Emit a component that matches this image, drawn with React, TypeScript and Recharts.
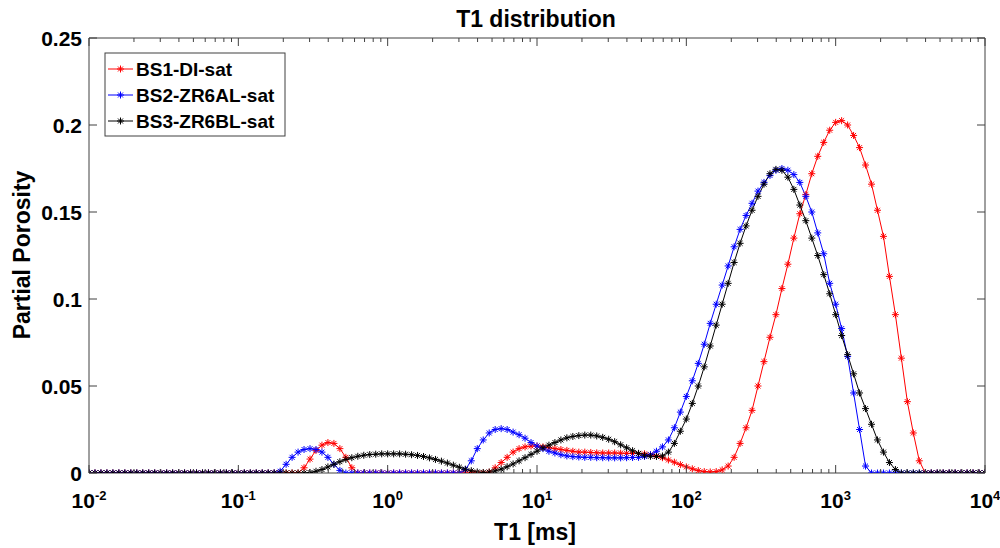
import React from "react";
import { LineChart, Line, XAxis, YAxis } from "recharts";

const FONT = '"Liberation Sans", Arial, Helvetica, sans-serif';
const AXIS_COLOR = "#404040";

// T1 bins: 25 per decade from 1e-2 to 1e4 (logspace, like the inversion grid)
const T1_BINS = Array.from({ length: 151 }, (_, i) => Math.pow(10, -2 + i / 25));

const BS1_DI = [
  0, 0, 0, 0, 0, 0, 0, 0, 0, 0,
  0, 0, 0, 0, 0, 0, 0, 0, 0, 0,
  0, 0, 0, 0, 0, 0, 0, 0, 0, 0,
  0, 0, 0, 0, 0, 0, 0.003, 0.008, 0.013, 0.016,
  0.0175, 0.017, 0.014, 0.009, 0.003, 0, 0, 0, 0, 0,
  0, 0, 0, 0, 0, 0, 0, 0, 0, 0,
  0, 0, 0, 0, 0, 0, 0, 0.0005, 0.003, 0.006,
  0.009, 0.012, 0.014, 0.015, 0.0155, 0.0155, 0.015, 0.0145, 0.014, 0.0135,
  0.013, 0.0125, 0.012, 0.012, 0.0118, 0.0116, 0.0115, 0.0115, 0.0115, 0.0114,
  0.0113, 0.0112, 0.0112, 0.011, 0.0105, 0.0098, 0.0088, 0.0075, 0.0062, 0.0048,
  0.0035, 0.0024, 0.0014, 0.0008, 0.0006, 0.0008, 0.0018, 0.004, 0.009, 0.017,
  0.026, 0.036, 0.05, 0.064, 0.078, 0.091, 0.106, 0.12, 0.135, 0.149,
  0.16, 0.172, 0.182, 0.19, 0.197, 0.2015, 0.2025, 0.2, 0.194, 0.187,
  0.177, 0.166, 0.151, 0.136, 0.113, 0.091, 0.066, 0.041, 0.023, 0.007,
  0, 0, 0, 0, 0, 0, 0, 0, 0, 0,
  0,
];

const BS2_ZR6AL = [
  0, 0, 0, 0, 0, 0, 0, 0, 0, 0,
  0, 0, 0, 0, 0, 0, 0, 0, 0, 0,
  0, 0, 0, 0, 0, 0, 0, 0, 0, 0,
  0, 0, 0.001, 0.005, 0.009, 0.012, 0.0135, 0.014, 0.0135, 0.012,
  0.009, 0.005, 0.0015, 0, 0, 0, 0, 0, 0, 0,
  0, 0, 0, 0, 0, 0, 0, 0, 0, 0,
  0, 0, 0, 0.002, 0.007, 0.014, 0.019, 0.023, 0.025, 0.0255,
  0.025, 0.0235, 0.022, 0.02, 0.0175, 0.0155, 0.014, 0.0125, 0.0115, 0.0105,
  0.0098, 0.0094, 0.0092, 0.009, 0.009, 0.0088, 0.0088, 0.0087, 0.0087, 0.0087,
  0.0088, 0.0089, 0.009, 0.0095, 0.0105, 0.0125, 0.015, 0.019, 0.026, 0.035,
  0.044, 0.053, 0.063, 0.074, 0.086, 0.097, 0.108, 0.119, 0.13, 0.14,
  0.148, 0.155, 0.162, 0.167, 0.171, 0.174, 0.175, 0.174, 0.1715, 0.167,
  0.159, 0.15, 0.138, 0.126, 0.109, 0.097, 0.083, 0.067, 0.046, 0.025,
  0.004, 0, 0, 0, 0, 0, 0, 0, 0, 0,
  0, 0, 0, 0, 0, 0, 0, 0, 0, 0,
  0,
];

const BS3_ZR6BL = [
  0, 0, 0, 0, 0, 0, 0, 0, 0, 0,
  0, 0, 0, 0, 0, 0, 0, 0, 0, 0,
  0, 0, 0, 0, 0, 0, 0, 0, 0, 0,
  0, 0, 0, 0, 0, 0, 0, 0.0003, 0.001, 0.002,
  0.0035, 0.005, 0.0065, 0.0078, 0.0088, 0.0096, 0.0102, 0.0106, 0.0108, 0.011,
  0.011, 0.011, 0.011, 0.0108, 0.0105, 0.0101, 0.0095, 0.0087, 0.0078, 0.0068,
  0.0057, 0.0045, 0.0033, 0.0022, 0.0013, 0.0006, 0.0003, 0.0005, 0.0012, 0.0022,
  0.0036, 0.0052, 0.007, 0.0088, 0.0107, 0.0125, 0.0145, 0.016, 0.0175, 0.019,
  0.0202, 0.021, 0.0215, 0.0218, 0.0218, 0.0213, 0.0205, 0.0194, 0.018, 0.0162,
  0.0145, 0.0128, 0.0113, 0.0102, 0.0096, 0.0095, 0.0098, 0.012, 0.017, 0.024,
  0.031, 0.04, 0.05, 0.061, 0.073, 0.085, 0.097, 0.109, 0.121, 0.132,
  0.142, 0.151, 0.159, 0.166, 0.172, 0.1745, 0.174, 0.17, 0.163, 0.154,
  0.145, 0.135, 0.125, 0.114, 0.103, 0.091, 0.079, 0.068, 0.057, 0.046,
  0.037, 0.028, 0.019, 0.012, 0.006, 0.002, 0, 0, 0, 0,
  0, 0, 0, 0, 0, 0, 0, 0, 0, 0,
  0,
];

// red is tied to the top/right axes (same domains) so the box axes get drawn
const SERIES = [
  { key: "bs1", name: "BS1-DI-sat", color: "#ff0000", xAxisId: "top", yAxisId: "right" },
  { key: "bs2", name: "BS2-ZR6AL-sat", color: "#0000ff", xAxisId: 0, yAxisId: 0 },
  { key: "bs3", name: "BS3-ZR6BL-sat", color: "#000000", xAxisId: 0, yAxisId: 0 },
];

const DECADES = [0.01, 0.1, 1, 10, 100, 1000, 10000];
const DECADE_EXPONENTS = ["-2", "-1", "0", "1", "2", "3", "4"];
const MINOR_STEPS = [2, 3, 4, 5, 6, 7, 8, 9];
const Y_TICKS = [0, 0.05, 0.1, 0.15, 0.2, 0.25];
const Y_TICK_LABELS = ["0", "0.05", "0.1", "0.15", "0.2", "0.25"];

const X_TICKS = [
  ...DECADES,
  ...DECADES.slice(0, -1).flatMap((d) => MINOR_STEPS.map((k) => d * k)),
].sort((a, b) => a - b);

const data = T1_BINS.map((t, i) => ({
  t,
  bs1: BS1_DI[i],
  bs2: BS2_ZR6AL[i],
  bs3: BS3_ZR6BL[i],
}));

const Asterisk = ({ cx, cy, color, r = 3.5 }: any) => {
  const d = r * 0.7071;
  return (
    <g stroke={color} strokeWidth={1}>
      <line x1={cx - r} y1={cy} x2={cx + r} y2={cy} />
      <line x1={cx} y1={cy - r} x2={cx} y2={cy + r} />
      <line x1={cx - d} y1={cy - d} x2={cx + d} y2={cy + d} />
      <line x1={cx - d} y1={cy + d} x2={cx + d} y2={cy - d} />
    </g>
  );
};

const BottomTick = ({ x, y, payload }: any) => {
  const idx = DECADES.indexOf(payload.value);
  const major = idx >= 0;
  return (
    <g>
      <line x1={x} x2={x} y1={y} y2={y - (major ? 8 : 4)} stroke={AXIS_COLOR} />
      {major && (
        <text x={x} y={y + 35} textAnchor="middle" fontFamily={FONT} fontWeight="bold" fontSize={21} fill="#000">
          10
          <tspan dy={-8} fontSize={13}>
            {DECADE_EXPONENTS[idx]}
          </tspan>
        </text>
      )}
    </g>
  );
};

const TopTick = ({ x, y, payload }: any) => {
  const major = DECADES.indexOf(payload.value) >= 0;
  return <line x1={x} x2={x} y1={y} y2={y + (major ? 8 : 4)} stroke={AXIS_COLOR} />;
};

const LeftTick = ({ x, y, payload }: any) => {
  const idx = Y_TICKS.indexOf(payload.value);
  return (
    <g>
      <line x1={x} x2={x + 8} y1={y} y2={y} stroke={AXIS_COLOR} />
      <text x={x - 7} y={y} textAnchor="end" dominantBaseline="central" fontFamily={FONT} fontWeight="bold" fontSize={21} fill="#000">
        {Y_TICK_LABELS[idx]}
      </text>
    </g>
  );
};

const RightTick = ({ x, y }: any) => <line x1={x} x2={x - 8} y1={y} y2={y} stroke={AXIS_COLOR} />;

const LEGEND_ROWS_Y = [69, 95, 121];

export default function App() {
  return (
    <div style={{ position: "absolute", left: 0, top: 0, width: 1000, height: 548, background: "#fff" }}>
      <LineChart width={1000} height={548} data={data} margin={{ top: 37, right: 14, bottom: 0, left: 0 }}>
        <XAxis
          dataKey="t"
          type="number"
          scale="log"
          domain={[0.01, 10000]}
          allowDataOverflow
          ticks={X_TICKS}
          interval={0}
          tickSize={0}
          tickMargin={0}
          height={75}
          axisLine={{ stroke: AXIS_COLOR }}
          tickLine={false}
          tick={<BottomTick />}
        />
        <XAxis
          xAxisId="top"
          dataKey="t"
          orientation="top"
          type="number"
          scale="log"
          domain={[0.01, 10000]}
          allowDataOverflow
          ticks={X_TICKS}
          interval={0}
          tickSize={0}
          tickMargin={0}
          height={1}
          axisLine={{ stroke: AXIS_COLOR }}
          tickLine={false}
          tick={<TopTick />}
        />
        <YAxis
          type="number"
          domain={[0, 0.25]}
          allowDataOverflow
          ticks={Y_TICKS}
          interval={0}
          tickSize={0}
          tickMargin={0}
          width={89}
          axisLine={{ stroke: AXIS_COLOR }}
          tickLine={false}
          tick={<LeftTick />}
        />
        <YAxis
          yAxisId="right"
          orientation="right"
          type="number"
          domain={[0, 0.25]}
          allowDataOverflow
          ticks={Y_TICKS}
          interval={0}
          tickSize={0}
          tickMargin={0}
          width={1}
          axisLine={{ stroke: AXIS_COLOR }}
          tickLine={false}
          tick={<RightTick />}
        />
        {SERIES.map((s) => (
          <Line
            key={s.key}
            xAxisId={s.xAxisId}
            yAxisId={s.yAxisId}
            type="linear"
            dataKey={s.key}
            stroke={s.color}
            strokeWidth={1}
            isAnimationActive={false}
            activeDot={false}
            dot={(p: any) => <Asterisk key={`${s.key}-${p.index}`} cx={p.cx} cy={p.cy} color={s.color} />}
          />
        ))}
      </LineChart>
      <svg width={1000} height={548} style={{ position: "absolute", left: 0, top: 0, pointerEvents: "none" }}>
        <text x={536} y={27} textAnchor="middle" fontFamily={FONT} fontWeight="bold" fontSize={23} fill="#000">
          T1 distribution
        </text>
        <text x={535} y={540} textAnchor="middle" fontFamily={FONT} fontWeight="bold" fontSize={23} fill="#000">
          T1 [ms]
        </text>
        <text
          x={22}
          y={255}
          textAnchor="middle"
          dominantBaseline="central"
          transform="rotate(-90 22 255)"
          fontFamily={FONT}
          fontWeight="bold"
          fontSize={23}
          fill="#000"
        >
          Partial Porosity
        </text>
        <rect x={105} y={53} width={180} height={83} fill="#fff" stroke={AXIS_COLOR} strokeWidth={1} />
        {SERIES.map((s, i) => (
          <g key={s.key}>
            <line x1={108} x2={133} y1={LEGEND_ROWS_Y[i]} y2={LEGEND_ROWS_Y[i]} stroke={s.color} strokeWidth={1} />
            <Asterisk cx={120.5} cy={LEGEND_ROWS_Y[i]} color={s.color} />
            <text x={136} y={LEGEND_ROWS_Y[i]} dominantBaseline="central" fontFamily={FONT} fontWeight="bold" fontSize={19} fill="#000">
              {s.name}
            </text>
          </g>
        ))}
      </svg>
    </div>
  );
}
